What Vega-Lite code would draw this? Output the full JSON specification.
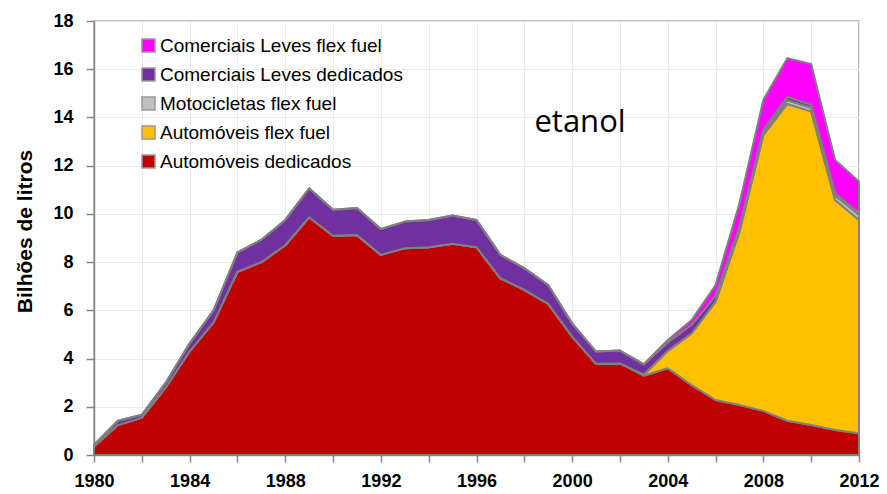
{
  "$schema": "https://vega.github.io/schema/vega-lite/v6.json",
  "width": 765,
  "height": 434,
  "autosize": {"type": "none"},
  "padding": {"left": 94, "top": 21, "right": 28, "bottom": 39},
  "background": "white",
  "config": {
    "view": {"stroke": "#a6a6a6", "strokeWidth": 1.5},
    "font": "Liberation Sans"
  },
  "datasets": {
    "consumo": [
      {"ano": 1980, "Automóveis dedicados": 0.35, "Automóveis flex fuel": 0, "Motocicletas flex fuel": 0, "Comerciais Leves dedicados": 0.08, "Comerciais Leves flex fuel": 0},
      {"ano": 1981, "Automóveis dedicados": 1.24, "Automóveis flex fuel": 0, "Motocicletas flex fuel": 0, "Comerciais Leves dedicados": 0.18, "Comerciais Leves flex fuel": 0},
      {"ano": 1982, "Automóveis dedicados": 1.55, "Automóveis flex fuel": 0, "Motocicletas flex fuel": 0, "Comerciais Leves dedicados": 0.12, "Comerciais Leves flex fuel": 0},
      {"ano": 1983, "Automóveis dedicados": 2.8, "Automóveis flex fuel": 0, "Motocicletas flex fuel": 0, "Comerciais Leves dedicados": 0.2, "Comerciais Leves flex fuel": 0},
      {"ano": 1984, "Automóveis dedicados": 4.3, "Automóveis flex fuel": 0, "Motocicletas flex fuel": 0, "Comerciais Leves dedicados": 0.33, "Comerciais Leves flex fuel": 0},
      {"ano": 1985, "Automóveis dedicados": 5.5, "Automóveis flex fuel": 0, "Motocicletas flex fuel": 0, "Comerciais Leves dedicados": 0.5, "Comerciais Leves flex fuel": 0},
      {"ano": 1986, "Automóveis dedicados": 7.6, "Automóveis flex fuel": 0, "Motocicletas flex fuel": 0, "Comerciais Leves dedicados": 0.8, "Comerciais Leves flex fuel": 0},
      {"ano": 1987, "Automóveis dedicados": 8.0, "Automóveis flex fuel": 0, "Motocicletas flex fuel": 0, "Comerciais Leves dedicados": 0.93, "Comerciais Leves flex fuel": 0},
      {"ano": 1988, "Automóveis dedicados": 8.7, "Automóveis flex fuel": 0, "Motocicletas flex fuel": 0, "Comerciais Leves dedicados": 1.05, "Comerciais Leves flex fuel": 0},
      {"ano": 1989, "Automóveis dedicados": 9.86, "Automóveis flex fuel": 0, "Motocicletas flex fuel": 0, "Comerciais Leves dedicados": 1.2, "Comerciais Leves flex fuel": 0},
      {"ano": 1990, "Automóveis dedicados": 9.09, "Automóveis flex fuel": 0, "Motocicletas flex fuel": 0, "Comerciais Leves dedicados": 1.08, "Comerciais Leves flex fuel": 0},
      {"ano": 1991, "Automóveis dedicados": 9.12, "Automóveis flex fuel": 0, "Motocicletas flex fuel": 0, "Comerciais Leves dedicados": 1.12, "Comerciais Leves flex fuel": 0},
      {"ano": 1992, "Automóveis dedicados": 8.3, "Automóveis flex fuel": 0, "Motocicletas flex fuel": 0, "Comerciais Leves dedicados": 1.07, "Comerciais Leves flex fuel": 0},
      {"ano": 1993, "Automóveis dedicados": 8.58, "Automóveis flex fuel": 0, "Motocicletas flex fuel": 0, "Comerciais Leves dedicados": 1.1, "Comerciais Leves flex fuel": 0},
      {"ano": 1994, "Automóveis dedicados": 8.62, "Automóveis flex fuel": 0, "Motocicletas flex fuel": 0, "Comerciais Leves dedicados": 1.13, "Comerciais Leves flex fuel": 0},
      {"ano": 1995, "Automóveis dedicados": 8.76, "Automóveis flex fuel": 0, "Motocicletas flex fuel": 0, "Comerciais Leves dedicados": 1.17, "Comerciais Leves flex fuel": 0},
      {"ano": 1996, "Automóveis dedicados": 8.62, "Automóveis flex fuel": 0, "Motocicletas flex fuel": 0, "Comerciais Leves dedicados": 1.13, "Comerciais Leves flex fuel": 0},
      {"ano": 1997, "Automóveis dedicados": 7.33, "Automóveis flex fuel": 0, "Motocicletas flex fuel": 0, "Comerciais Leves dedicados": 0.97, "Comerciais Leves flex fuel": 0},
      {"ano": 1998, "Automóveis dedicados": 6.85, "Automóveis flex fuel": 0, "Motocicletas flex fuel": 0, "Comerciais Leves dedicados": 0.9, "Comerciais Leves flex fuel": 0},
      {"ano": 1999, "Automóveis dedicados": 6.27, "Automóveis flex fuel": 0, "Motocicletas flex fuel": 0, "Comerciais Leves dedicados": 0.78, "Comerciais Leves flex fuel": 0},
      {"ano": 2000, "Automóveis dedicados": 4.91, "Automóveis flex fuel": 0, "Motocicletas flex fuel": 0, "Comerciais Leves dedicados": 0.55, "Comerciais Leves flex fuel": 0},
      {"ano": 2001, "Automóveis dedicados": 3.78, "Automóveis flex fuel": 0, "Motocicletas flex fuel": 0, "Comerciais Leves dedicados": 0.51, "Comerciais Leves flex fuel": 0},
      {"ano": 2002, "Automóveis dedicados": 3.8, "Automóveis flex fuel": 0, "Motocicletas flex fuel": 0, "Comerciais Leves dedicados": 0.53, "Comerciais Leves flex fuel": 0},
      {"ano": 2003, "Automóveis dedicados": 3.29, "Automóveis flex fuel": 0.05, "Motocicletas flex fuel": 0, "Comerciais Leves dedicados": 0.42, "Comerciais Leves flex fuel": 0.01},
      {"ano": 2004, "Automóveis dedicados": 3.6, "Automóveis flex fuel": 0.72, "Motocicletas flex fuel": 0, "Comerciais Leves dedicados": 0.35, "Comerciais Leves flex fuel": 0.1},
      {"ano": 2005, "Automóveis dedicados": 2.9, "Automóveis flex fuel": 2.15, "Motocicletas flex fuel": 0, "Comerciais Leves dedicados": 0.35, "Comerciais Leves flex fuel": 0.2},
      {"ano": 2006, "Automóveis dedicados": 2.28, "Automóveis flex fuel": 4.08, "Motocicletas flex fuel": 0, "Comerciais Leves dedicados": 0.24, "Comerciais Leves flex fuel": 0.45},
      {"ano": 2007, "Automóveis dedicados": 2.07, "Automóveis flex fuel": 7.2, "Motocicletas flex fuel": 0, "Comerciais Leves dedicados": 0.2, "Comerciais Leves flex fuel": 0.97},
      {"ano": 2008, "Automóveis dedicados": 1.83, "Automóveis flex fuel": 11.45, "Motocicletas flex fuel": 0.1, "Comerciais Leves dedicados": 0.11, "Comerciais Leves flex fuel": 1.24},
      {"ano": 2009, "Automóveis dedicados": 1.42, "Automóveis flex fuel": 13.14, "Motocicletas flex fuel": 0.15, "Comerciais Leves dedicados": 0.15, "Comerciais Leves flex fuel": 1.6},
      {"ano": 2010, "Automóveis dedicados": 1.24, "Automóveis flex fuel": 13.01, "Motocicletas flex fuel": 0.15, "Comerciais Leves dedicados": 0.12, "Comerciais Leves flex fuel": 1.7},
      {"ano": 2011, "Automóveis dedicados": 1.04, "Automóveis flex fuel": 9.54, "Motocicletas flex fuel": 0.18, "Comerciais Leves dedicados": 0.1, "Comerciais Leves flex fuel": 1.38},
      {"ano": 2012, "Automóveis dedicados": 0.9, "Automóveis flex fuel": 8.85, "Motocicletas flex fuel": 0.2, "Comerciais Leves dedicados": 0.08, "Comerciais Leves flex fuel": 1.31}
    ],
    "camadas": [
      {"serie": "Automóveis dedicados", "camada": 1},
      {"serie": "Automóveis flex fuel", "camada": 2},
      {"serie": "Motocicletas flex fuel", "camada": 3},
      {"serie": "Comerciais Leves dedicados", "camada": 4},
      {"serie": "Comerciais Leves flex fuel", "camada": 5}
    ],
    "rotulo": [
      {"ano": 2000.33, "valor": 13.41, "texto": "etanol"}
    ]
  },
  "layer": [
    {
      "data": {"name": "consumo"},
      "transform": [
        {"fold": ["Automóveis dedicados", "Automóveis flex fuel", "Motocicletas flex fuel", "Comerciais Leves dedicados", "Comerciais Leves flex fuel"], "as": ["serie", "valor"]},
        {"lookup": "serie", "from": {"data": {"name": "camadas"}, "key": "serie", "fields": ["camada"]}}
      ],
      "mark": {"type": "area", "stroke": "#808080", "strokeWidth": 2, "strokeJoin": "round", "opacity": 1},
      "encoding": {
        "x": {
          "field": "ano", "type": "quantitative",
          "scale": {"domain": [1980, 2012], "nice": false, "zero": false},
          "axis": {
            "title": null,
            "values": [1980,1981,1982,1983,1984,1985,1986,1987,1988,1989,1990,1991,1992,1993,1994,1995,1996,1997,1998,1999,2000,2001,2002,2003,2004,2005,2006,2007,2008,2009,2010,2011,2012],
            "format": "d",
            "labelExpr": "datum.value % 4 == 0 ? datum.label : ''",
            "labelFont": "Liberation Sans", "labelFontWeight": "bold", "labelFontSize": 18, "labelColor": "#000000",
            "labelPadding": 10, "labelOverlap": false, "labelFlush": false,
            "tickSize": 7, "tickColor": "#888888", "tickWidth": 1.5,
            "domainColor": "#888888", "domainWidth": 1.5,
            "grid": true, "gridColor": "#ebebeb", "gridWidth": 1
          }
        },
        "y": {
          "field": "valor", "type": "quantitative", "stack": "zero",
          "scale": {"domain": [0, 18], "nice": false},
          "axis": {
            "title": "Bilhões de litros",
            "titleFont": "Liberation Sans", "titleFontSize": 21, "titleFontWeight": "bold", "titleColor": "#000000",
            "titleX": -69, "titleY": 210, "titleAngle": -90, "titleAlign": "center", "titleBaseline": "middle",
            "values": [0, 2, 4, 6, 8, 10, 12, 14, 16, 18],
            "labelFont": "Liberation Sans", "labelFontWeight": "bold", "labelFontSize": 18, "labelColor": "#000000",
            "labelPadding": 13,
            "tickSize": 8, "tickColor": "#888888", "tickWidth": 1.5,
            "domainColor": "#888888", "domainWidth": 1.5,
            "grid": true, "gridColor": "#ebebeb", "gridWidth": 1
          }
        },
        "color": {
          "field": "serie", "type": "nominal",
          "scale": {
            "domain": ["Comerciais Leves flex fuel", "Comerciais Leves dedicados", "Motocicletas flex fuel", "Automóveis flex fuel", "Automóveis dedicados"],
            "range": ["#ff00ff", "#7030a0", "#c0c0c0", "#ffc000", "#c00000"]
          },
          "legend": {
            "title": null,
            "orient": "none", "legendX": 45, "legendY": 15,
            "symbolType": "square", "symbolSize": 169,
            "symbolStrokeColor": "#999999", "symbolStrokeWidth": 1.5, "symbolOpacity": 1,
            "labelFont": "Liberation Sans", "labelFontSize": 19, "labelColor": "#000000", "labelLimit": 0,
            "labelOffset": 2, "rowPadding": 9
          }
        },
        "order": {"field": "camada", "type": "quantitative", "sort": "ascending"}
      }
    },
    {
      "data": {"name": "rotulo"},
      "mark": {"type": "text", "font": "Open Sans", "fontSize": 31, "color": "#000000", "align": "center", "baseline": "alphabetic"},
      "encoding": {
        "x": {"field": "ano", "type": "quantitative"},
        "y": {"field": "valor", "type": "quantitative"},
        "text": {"field": "texto"}
      }
    }
  ]
}
